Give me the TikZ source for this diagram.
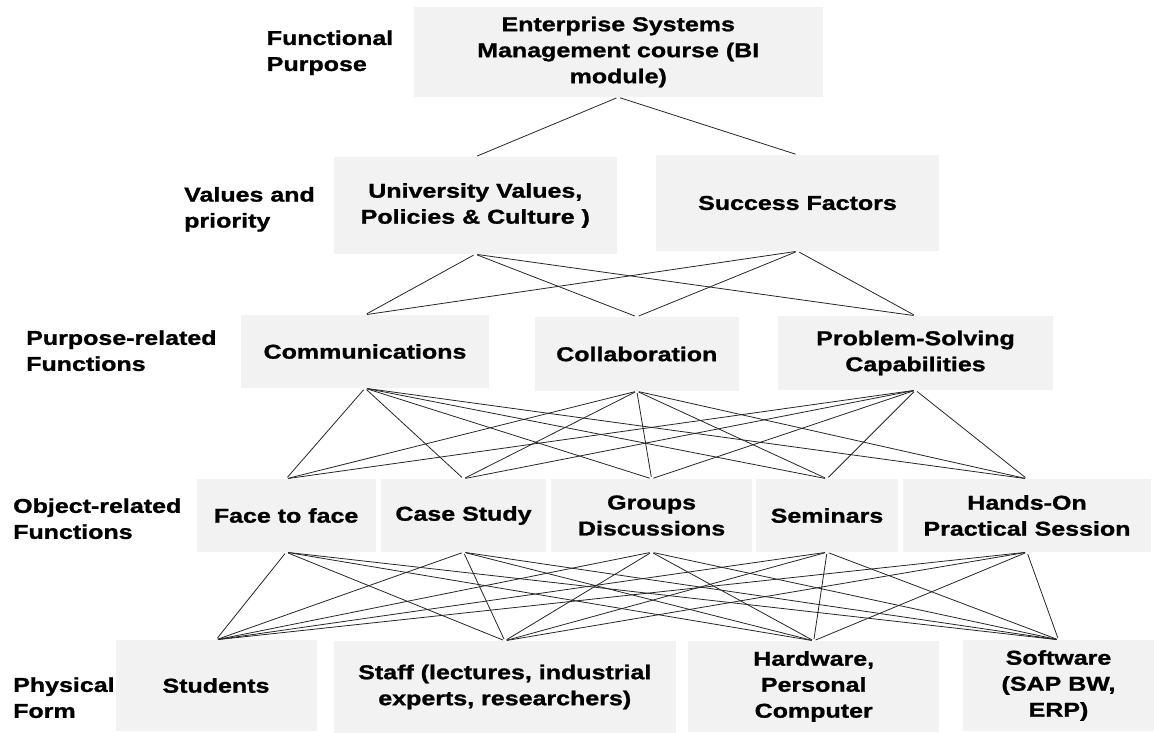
\documentclass[tikz,border=0pt]{standalone}
\usepackage{fontspec}
\setmainfont{Liberation Sans}[FakeStretch=1.25, BoldFeatures={FakeBold=1.2}]
\definecolor{boxfill}{RGB}{242,242,242}
\begin{document}
\begin{tikzpicture}[x=1pt,y=-1pt,
  every node/.style={font=\fontsize{20}{26}\selectfont\bfseries, align=center, inner sep=0pt, text=black},
  box/.style 2 args={fill=boxfill, minimum width=#1, minimum height=#2},
  lbl/.style={anchor=west, align=left},
  link/.style={draw=black!85, line width=0.8pt, shorten <=2pt, shorten >=2pt}]
\useasboundingbox (0,0) rectangle (1154,733);
% level 1
\node[box={408.5pt}{90pt}] (top) at (618.25,52) {Enterprise Systems\\Management course (BI\\module)};
% level 2
\node[box={283.4pt}{97pt}] (univ) at (475.3,205.5) {University Values,\\Policies \& Culture )};
\node[box={283pt}{96pt}] (succ) at (797.5,203) {Success Factors};
% level 3
\node[box={248pt}{73pt}] (comm) at (365,351.5) {Communications};
\node[box={203.6pt}{74pt}] (coll) at (636.8,354) {Collaboration};
\node[box={275pt}{74pt}] (prob) at (915.5,353) {Problem-Solving\\Capabilities};
% level 4
\node[box={179pt}{73pt}] (face) at (286.1,515.5) {Face to face};
\node[box={164.3pt}{73pt}] (case) at (463.5,515.5) {Case Study};
\node[box={200.3pt}{73pt}] (grp) at (651.6,515.5) {Groups\\Discussions};
\node[box={142pt}{73pt}] (sem) at (827,515.5) {Seminars};
\node[box={248pt}{73pt}] (hands) at (1027,515.5) {Hands-On\\Practical Session};
% level 5
\node[box={201pt}{91pt}] (stud) at (216,685.5) {Students};
\node[box={342.4pt}{92pt}] (staff) at (504.8,687) {Staff (lectures, industrial\\experts, researchers)};
\node[box={250.5pt}{91pt}] (hw) at (813.7,686.5) {Hardware,\\Personal\\Computer};
\node[box={191pt}{91pt}] (sw) at (1058.5,685.5) {Software\\(SAP BW,\\ERP)};
% level labels
\node[lbl] (l1) at (266.6,52.8) {Functional\\Purpose};
\node[lbl] (l2) at (184,209.4) {Values and\\priority};
\node[lbl] (l3) at (26,350.7) {Purpose-related\\Functions};
\node[lbl] (l4) at (13,518.7) {Object-related\\Functions};
\node[lbl] (l5) at (13,697.7) {Physical\\Form};
% connectors
\foreach \b in {univ,succ} \draw[link] (top.south) -- (\b.north);
\foreach \a in {univ,succ} \foreach \b in {comm,coll,prob} \draw[link] (\a.south) -- (\b.north);
\foreach \a in {comm,coll,prob} \foreach \b in {face,case,grp,sem,hands} \draw[link] (\a.south) -- (\b.north);
\foreach \a in {face,case,grp,sem,hands} \foreach \b in {stud,staff,hw,sw} \draw[link] (\a.south) -- (\b.north);
\end{tikzpicture}
\end{document}
